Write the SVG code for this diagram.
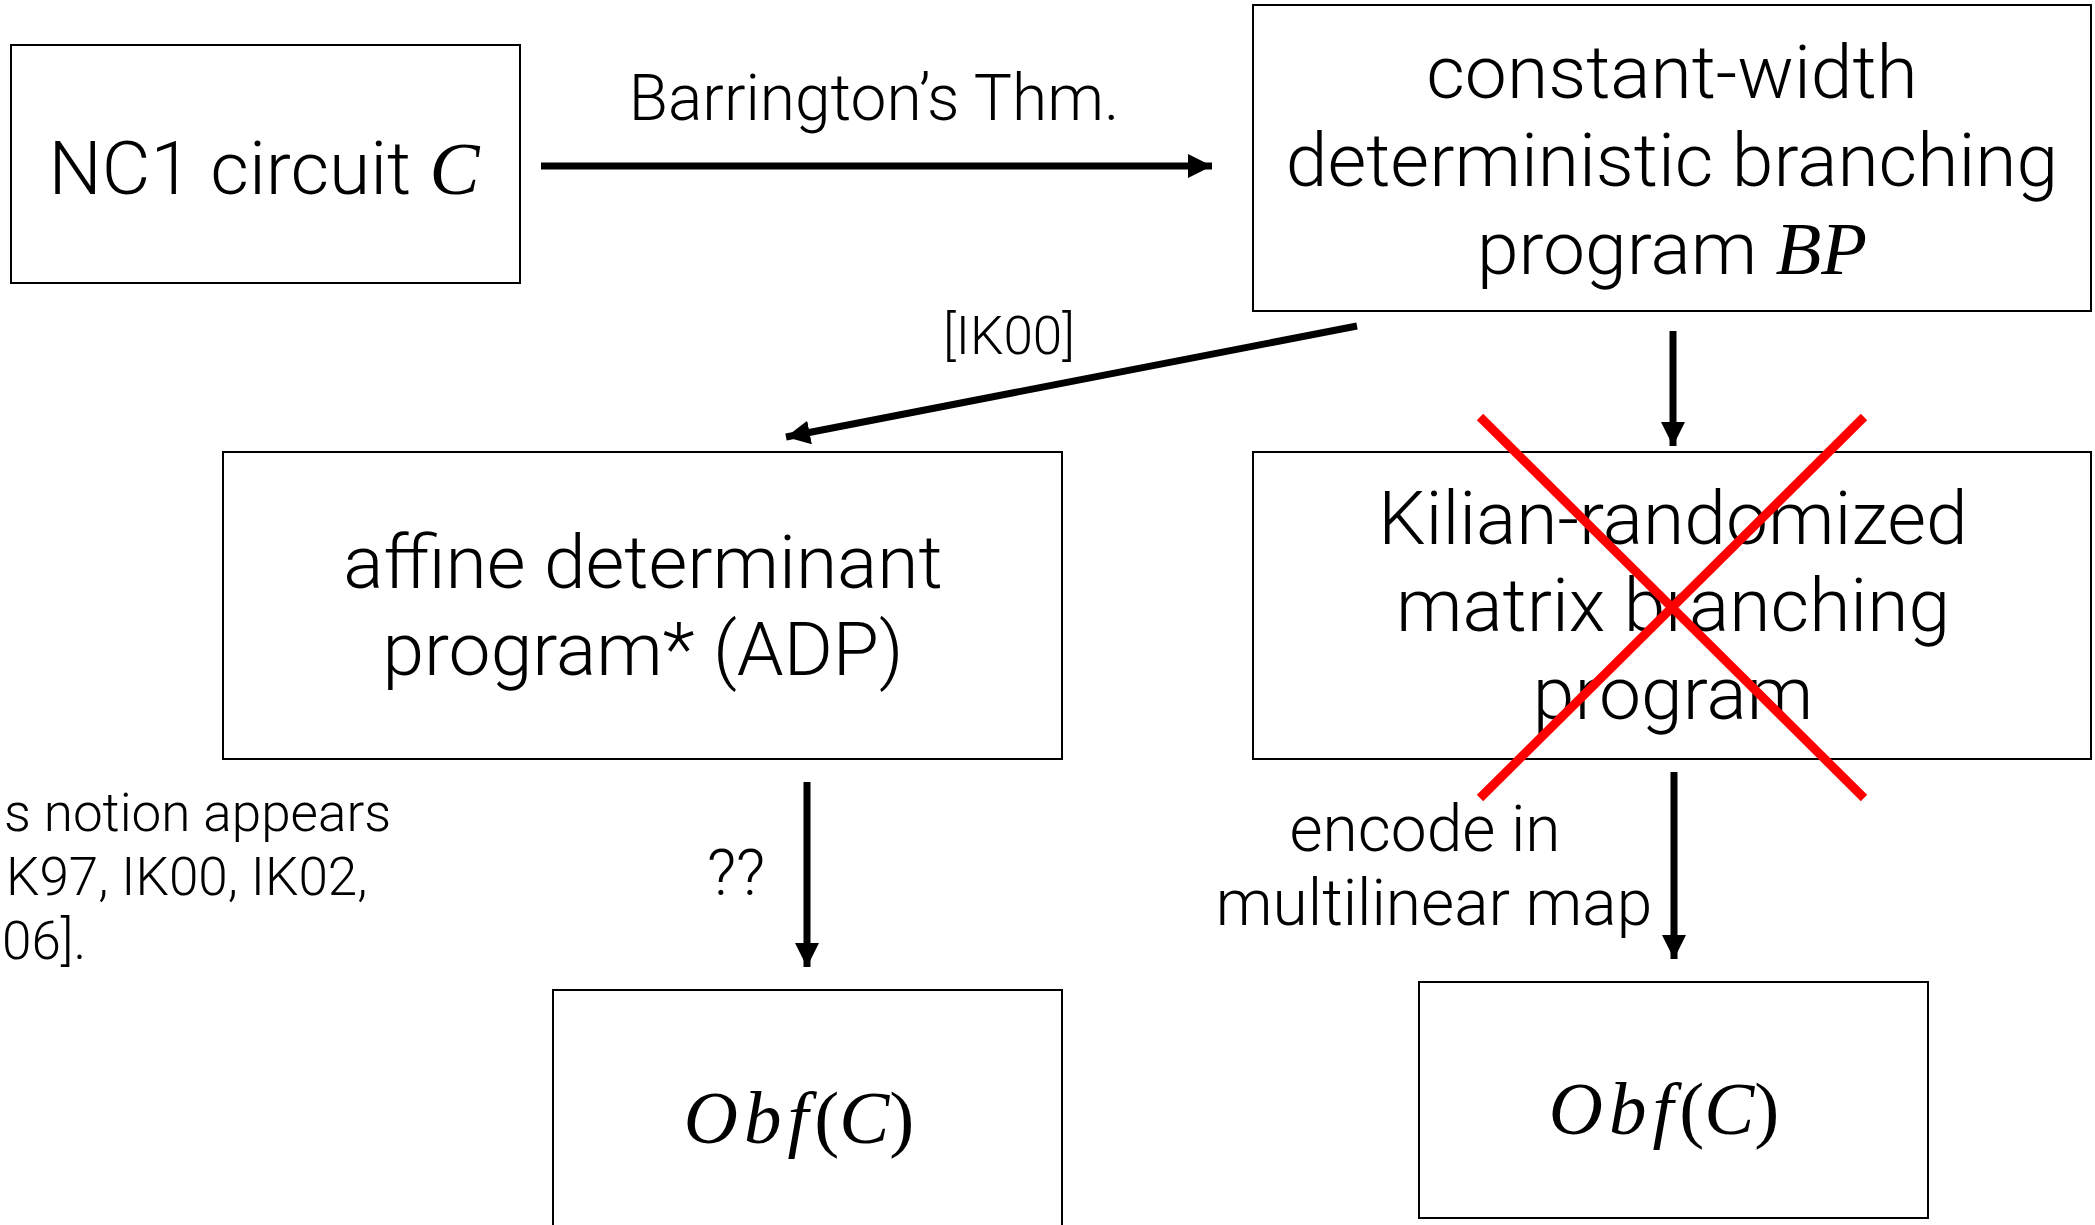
<svg xmlns="http://www.w3.org/2000/svg" width="2095" height="1225" viewBox="0 0 2095 1225">
<style>
.box{fill:#fff;stroke:#000;stroke-width:2}
.t{font-family:Roboto,"Liberation Sans",sans-serif;font-weight:300;fill:#000;text-anchor:middle}
.big{font-size:75px}
.mid{font-size:64px}
.sm{font-size:53px}
.m{font-family:"Liberation Serif","DejaVu Serif",serif;font-style:italic}
.mu{font-family:"Liberation Serif","DejaVu Serif",serif;font-style:normal}
.conn{stroke:#000;stroke-width:7;fill:none}
.x{stroke:#ff0000;stroke-width:9;fill:none}
</style>
<defs>
<marker id="ah" markerUnits="userSpaceOnUse" markerWidth="26" markerHeight="26" refX="24" refY="12" orient="auto">
<path d="M0,0 L24,12 L0,24 Z" fill="#000"/>
</marker>
</defs>
<rect width="2095" height="1225" fill="#fff"/>
<g id="n1">
<rect class="box" x="11" y="45" width="509" height="238"/>
<text class="t big" x="264" y="194">NC1 circuit <tspan class="m">C</tspan></text>
</g>
<g id="n2">
<rect class="box" x="1253" y="5" width="838" height="306"/>
<text class="t big" x="1672" y="98">constant-width</text>
<text class="t big" x="1672" y="186">deterministic branching</text>
<text class="t big" x="1672" y="274">program <tspan class="m">BP</tspan></text>
</g>
<g id="n3">
<rect class="box" x="223" y="452" width="839" height="307"/>
<text class="t big" x="643" y="588">affine determinant</text>
<text class="t big" x="643" y="675">program* (ADP)</text>
</g>
<g id="n4">
<rect class="box" x="1253" y="452" width="838" height="307"/>
<text class="t big" x="1673" y="544">Kilian-randomized</text>
<text class="t big" x="1673" y="631">matrix branching</text>
<text class="t big" x="1673" y="719">program</text>
</g>
<g id="n5">
<rect class="box" x="553" y="990" width="509" height="260"/>
<text class="t big" x="799" y="1143"><tspan class="m" letter-spacing="6">Obf</tspan><tspan class="mu">(</tspan><tspan class="m">C</tspan><tspan class="mu">)</tspan></text>
</g>
<g id="n6">
<rect class="box" x="1419" y="982" width="509" height="236"/>
<text class="t big" x="1664" y="1134"><tspan class="m" letter-spacing="6">Obf</tspan><tspan class="mu">(</tspan><tspan class="m">C</tspan><tspan class="mu">)</tspan></text>
</g>
<g id="connectors">
<line class="conn" x1="541" y1="166" x2="1212" y2="166" marker-end="url(#ah)"/>
<line class="conn" x1="1357" y1="326" x2="786" y2="437" marker-end="url(#ah)"/>
<line class="conn" x1="1673" y1="331" x2="1673" y2="446" marker-end="url(#ah)"/>
<line class="conn" x1="807" y1="782" x2="807" y2="967" marker-end="url(#ah)"/>
<line class="conn" x1="1674" y1="772" x2="1674" y2="959" marker-end="url(#ah)"/>
<text class="t mid" x="874" y="120">Barrington’s Thm.</text>
<text class="t sm" x="1009" y="354">[IK00]</text>
<text class="t mid" x="736" y="895">??</text>
<text class="t mid" x="1425" y="851">encode in</text>
<text class="t mid" x="1434" y="925">multilinear map</text>
</g>
<g id="note">
<text class="t sm" style="text-anchor:start" x="4" y="831">s notion appears</text>
<text class="t sm" style="text-anchor:start" x="6" y="895">K97, IK00, IK02,</text>
<text class="t sm" style="text-anchor:start" x="2" y="959">06].</text>
</g>
<g id="cross">
<line class="x" x1="1480" y1="417" x2="1864" y2="798"/>
<line class="x" x1="1864" y1="417" x2="1480" y2="798"/>
</g>
</svg>
